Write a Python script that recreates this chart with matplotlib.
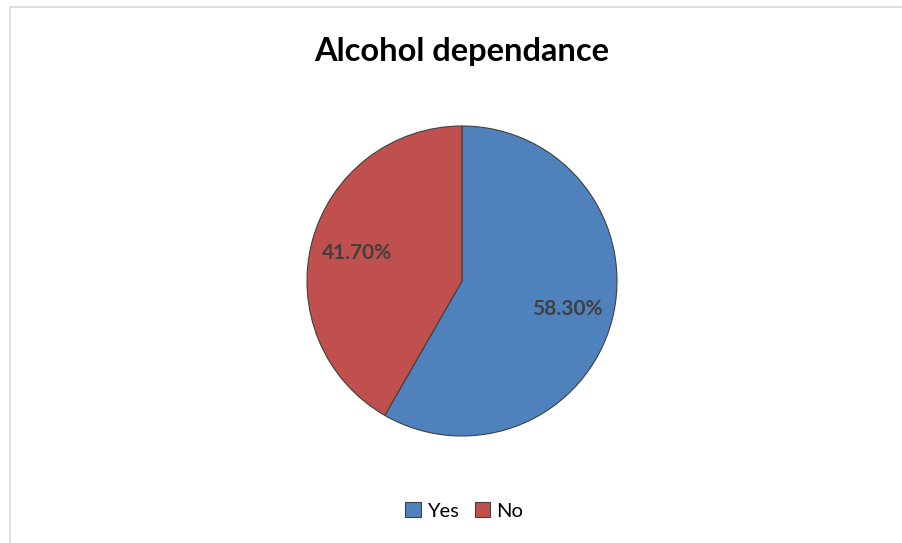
import matplotlib.pyplot as plt
from matplotlib.patches import Rectangle

# Dati
labels = ["Yes", "No"]
values = [58.3, 41.7]
colors = ["#4f81bd", "#c0504d"]

fig = plt.figure(figsize=(9.03, 5.43), dpi=100)

# bordo del riquadro del grafico
fig.patches.append(Rectangle((10 / 903, -0.05), 1.2, 1 - 7 / 543 + 0.05,
                             transform=fig.transFigure, fill=False,
                             edgecolor="#d9d9d9", linewidth=1.2))

ax = fig.add_axes([(462 - 155) / 903, 1 - (281 + 155) / 543, 310 / 903, 310 / 543])
wedges, texts, autotexts = ax.pie(
    values, colors=colors, startangle=90, counterclock=False,
    autopct="%.2f%%", pctdistance=0.7,
    wedgeprops=dict(edgecolor="#404040", linewidth=0.8),
    textprops=dict(color="#404040", fontsize=15, fontweight="bold", family="Lato"))
ax.set_xlim(-1, 1)
ax.set_ylim(-1, 1)
ax.set_aspect("equal")

fig.text(462 / 903, 1 - 51 / 543, "Alcohol dependance", ha="center", va="center",
         fontsize=23.5, fontweight="bold", family="Lato")

fig.legend(wedges, labels, loc="center", bbox_to_anchor=(464 / 903, 1 - 511 / 543),
           ncol=2, frameon=False, handlelength=0.75, handleheight=0.75,
           handletextpad=0.3, columnspacing=0.8,
           prop=dict(family="Lato", size=14.5))

fig.savefig("out.png", dpi=100)
